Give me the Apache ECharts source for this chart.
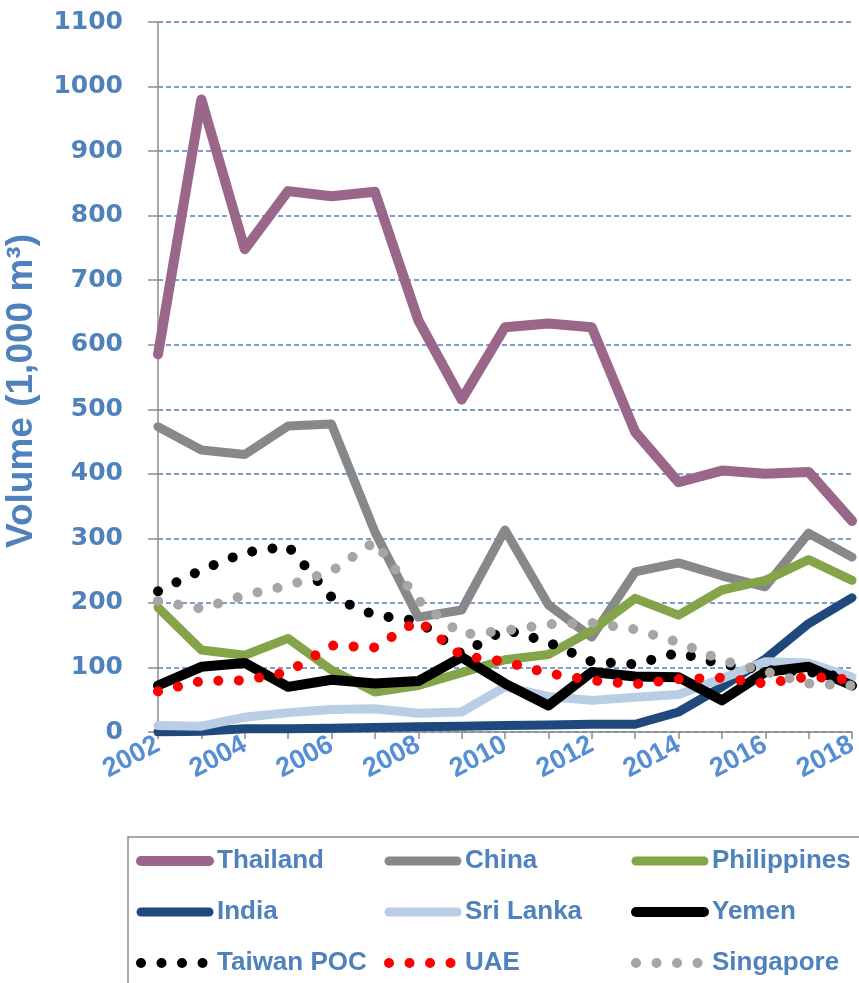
<!DOCTYPE html>
<html>
<head>
<meta charset="utf-8">
<title>Volume by country</title>
<script src="https://cdn.jsdelivr.net/npm/echarts@6.0.0/dist/echarts.min.js"></script>
<style>
  html, body { margin: 0; padding: 0; background: #fff; }
  #chart { width: 859px; height: 983px; }
</style>
</head>
<body>
<div id="chart"></div>
<script>
// years on the x axis
const years = ['2002','2003','2004','2005','2006','2007','2008','2009','2010','2011','2012','2013','2014','2015','2016','2017','2018']

// volumes, 1,000 m3
const thailand    = [585, 980, 748, 838, 830, 837, 638, 515, 627, 633, 627, 465, 387, 405, 400, 403, 327]
const china       = [473, 437, 430, 474, 477, 310, 178, 189, 313, 197, 147, 248, 262, 242, 225, 308, 271]
const philippines = [193, 127, 119, 145, 96, 62, 72, 92, 112, 120, 157, 207, 181, 220, 235, 267, 235]
const india       = [0, 1, 5, 5, 6, 7, 8, 9, 10, 11, 12, 12, 31, 70, 113, 168, 208]
const sriLanka    = [10, 9, 23, 30, 35, 36, 29, 31, 70, 55, 49, 54, 58, 83, 109, 107, 85]
const yemen       = [72, 101, 107, 70, 81, 75, 79, 116, 75, 41, 93, 86, 85, 49, 93, 101, 72]
const taiwan      = [218, 251, 278, 288, 209, 181, 172, 121, 159, 139, 109, 105, 123, 105, 96, 93, 83]
const uae         = [63, 79, 80, 93, 134, 131, 173, 118, 109, 91, 80, 74, 82, 84, 75, 86, 81]
const singapore   = [203, 191, 212, 227, 249, 295, 204, 151, 157, 167, 169, 159, 139, 111, 94, 75, 72]

const yMin = 0, yMax = 1100, yStep = 100

const blue = '#4F81BD'
const axisGray = '#8c8c8c'

function makeLine(name, data, color, width, dotted) {
    return {
        name: name,
        type: 'line',
        data: data,
        symbol: 'none',
        lineStyle: {
            color: color,
            width: width,
            type: dotted ? [0.01, 20.5] : 'solid',
            cap: 'round',
            join: 'round'
        },
        itemStyle: { color: color }
    }
}

function legendColumn(left, names) {
    return {
        orient: 'vertical',
        left: left,
        top: 846,
        padding: 0,
        itemGap: 21,
        itemWidth: 68,
        itemHeight: 12,
        selectedMode: false,
        data: names,
        itemStyle: { opacity: 0 },   // hide the marker dot, keep the line
        lineStyle: { width: 'inherit', type: 'inherit', cap: 'inherit' },
        textStyle: {
            color: blue,
            fontFamily: 'Liberation Sans',
            fontWeight: 'bold',
            fontSize: 26,
            lineHeight: 30,
            padding: [0, 0, 0, 3]
        }
    }
}

let my_graph = echarts.init(document.getElementById('chart'), null, { renderer: 'canvas' })
my_graph.setOption({
    animation: false,
    backgroundColor: '#fff',
    grid: { left: 158, right: 7, top: 22, bottom: 251, containLabel: false, outerBoundsMode: 'none' },
    legend: [
        legendColumn(136, ['Thailand', 'India', 'Taiwan POC']),
        legendColumn(384, ['China', 'Sri Lanka', 'UAE']),
        legendColumn(631, ['Philippines', 'Yemen', 'Singapore'])
    ],
    graphic: [{
        // legend frame, runs off the right and bottom edge like the original
        type: 'rect',
        silent: true,
        shape: { x: 128, y: 837, width: 800, height: 200 },
        style: { fill: 'none', stroke: axisGray, lineWidth: 1.5 }
    }],
    xAxis: {
        type: 'category',
        data: years,
        boundaryGap: false,
        axisLine: { show: true, lineStyle: { color: axisGray, width: 1.5 } },
        axisTick: { show: true, interval: 0, length: 7, lineStyle: { color: axisGray, width: 1.5 } },
        axisLabel: {
            interval: 1,
            rotate: 28,
            margin: 11,
            color: '#558ED5',
            fontFamily: 'Liberation Sans',
            fontWeight: 'bold',
            fontSize: 27
        },
        splitLine: { show: false }
    },
    yAxis: {
        type: 'value',
        min: yMin,
        max: yMax,
        interval: yStep,
        name: 'Volume (1,000 m³)',
        nameLocation: 'middle',
        nameGap: 118,
        nameTextStyle: {
            color: blue,
            fontFamily: 'Liberation Sans',
            fontWeight: 'bold',
            fontSize: 37,
            padding: [0, 28, 0, 0]
        },
        axisLine: { show: true, lineStyle: { color: axisGray, width: 1.5 } },
        axisTick: { show: true, length: 10, lineStyle: { color: axisGray, width: 1.5 } },
        axisLabel: {
            margin: 35,
            color: blue,
            fontFamily: 'DejaVu Sans',
            fontWeight: 'bold',
            fontSize: 25,
            formatter: function (v) { return String(v) }
        },
        splitLine: { show: true, lineStyle: { color: blue, width: 1.5, type: [5, 3] } }
    },
    series: [
        makeLine('Thailand', thailand, '#9A6689', 10, false),
        makeLine('China', china, '#888888', 9, false),
        makeLine('Philippines', philippines, '#84A44A', 9, false),
        makeLine('India', india, '#1F497D', 9, false),
        makeLine('Sri Lanka', sriLanka, '#B9CDE5', 9, false),
        makeLine('Yemen', yemen, '#000000', 10, false),
        makeLine('Taiwan POC', taiwan, '#000000', 10, true),
        makeLine('UAE', uae, '#FF0000', 10, true),
        makeLine('Singapore', singapore, '#A6A6A6', 10, true)
    ]
})
</script>
</body>
</html>
